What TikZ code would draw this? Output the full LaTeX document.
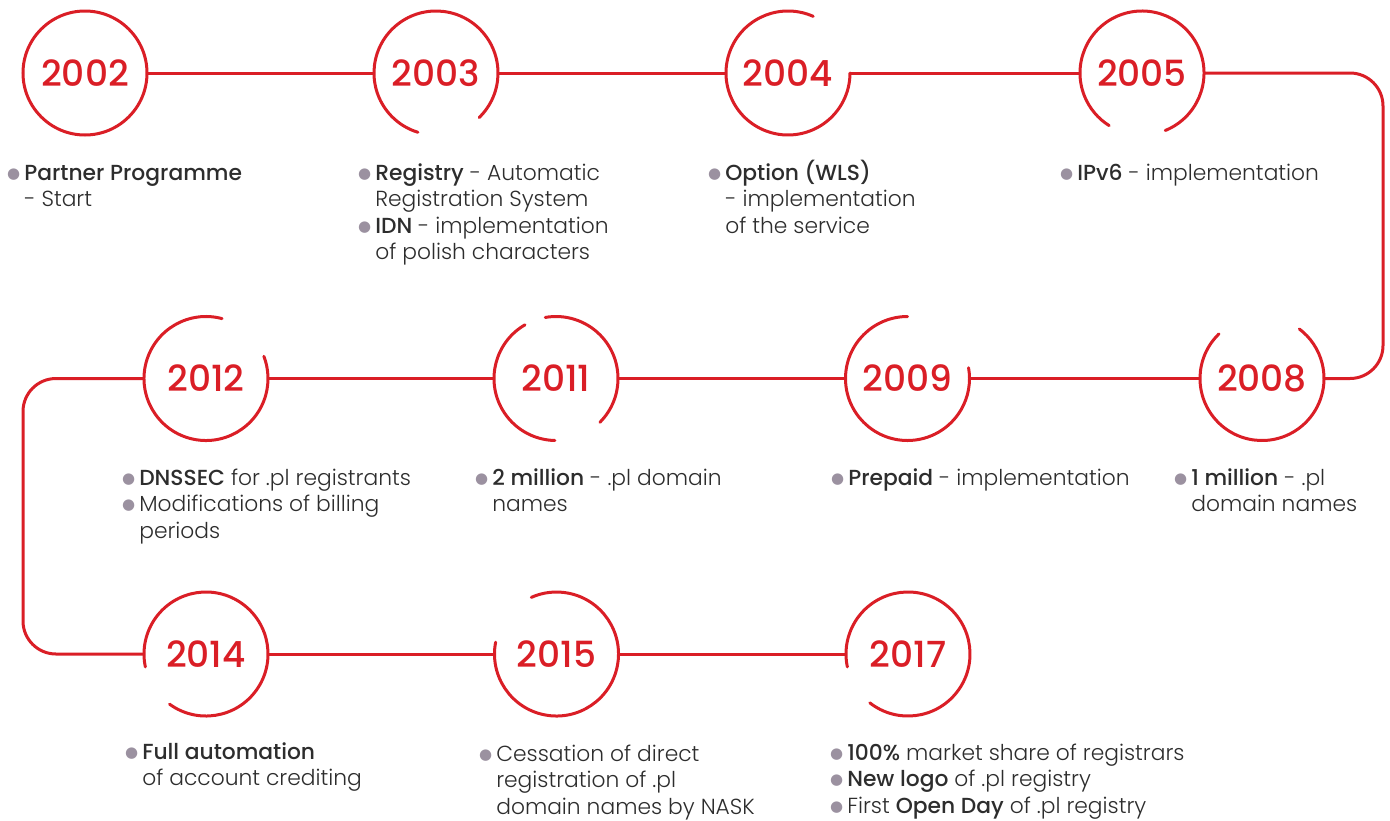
\documentclass[tikz,border=0pt]{standalone}
\usepackage{fontspec}
\setmainfont{Poppins}[UprightFont=* Light, BoldFont=* Medium]
\newfontfamily\yearfont{Poppins}[UprightFont=* Medium]
\newfontfamily\dotfont{DejaVu Sans}

\definecolor{tlred}{RGB}{218,30,38}
\definecolor{dotgray}{RGB}{155,145,160}
\definecolor{txtgray}{RGB}{45,45,45}

\newcommand\bl{\raisebox{2pt}{\dotfont\fontsize{15}{15}\selectfont\textcolor{dotgray}{●}}}
\newcommand\events[1]{\begin{tabular}[t]{@{}l@{\hspace{4pt}}l@{}}#1\end{tabular}}
% arc of a year ring, counter-clockwise from #2 to #3
\newcommand\ring[3]{\draw[ring] (#1.#2) arc[start angle=#2, end angle=#3, radius=62pt];}

\begin{document}
\begin{tikzpicture}[x=1pt, y=1pt,
    ring/.style={draw=tlred, line width=3pt, line cap=round},
    link/.style={draw=tlred, line width=3pt},
    year/.style={circle, minimum size=124pt, inner sep=0pt, outer sep=0pt,
      text=tlred, font=\yearfont\fontsize{36}{36}\selectfont},
    desc/.style={anchor=base west, inner sep=0pt, text=txtgray,
      font=\fontsize{21.8}{26.6}\selectfont}]
\useasboundingbox (0,0) rectangle (1390,-820);

% years
\node[year] (c2002) at (85,-73) {2002};
\node[year] (c2003) at (436,-73) {2003};
\node[year] (c2004) at (788,-73) {2004};
\node[year] (c2005) at (1142,-73) {2005};
\node[year] (c2012) at (206,-378.5) {2012};
\node[year] (c2011) at (556,-378.5) {2011};
\node[year] (c2009) at (907.5,-378.5) {2009};
\node[year] (c2008) at (1262,-378.5) {2008};
\node[year] (c2014) at (206,-654) {2014};
\node[year] (c2015) at (556.5,-654) {2015};
\node[year] (c2017) at (908,-654) {2017};

\ring{c2002}{0}{360}
\ring{c2003}{-46}{253}
\ring{c2004}{66}{360}
\ring{c2005}{-68}{238}
\ring{c2012}{75}{381}
\ring{c2011}{120}{269}
\ring{c2011}{-45}{100}
\ring{c2009}{90}{370}
\ring{c2008}{134}{413}
\ring{c2014}{234}{552}
\ring{c2015}{169}{474}
\ring{c2017}{232}{552}

% timeline
\coordinate (turnR) at (1383,-225);
\coordinate (turnL) at (23,-516);
\draw[link] (c2002.east) -- (c2003.west);
\draw[link] (c2003.east) -- (c2004.west);
\draw[link] (c2004.east) -- (c2005.west);
\draw[link, rounded corners=33pt] (c2005.east) -| (turnR) |- (c2008.east);
\draw[link] (c2008.west) -- (c2009.east);
\draw[link] (c2009.west) -- (c2011.east);
\draw[link] (c2011.west) -- (c2012.east);
\draw[link, rounded corners=33pt] (c2012.west) -| (turnL) |- (c2014.west);
\draw[link] (c2014.east) -- (c2015.west);
\draw[link] (c2015.east) -- (c2017.west);

% events
\node[desc] (d2002) at (7,-180) {\events{\bl & \textbf{Partner Programme}\\ & - Start}};
\node[desc] (d2003) at (358,-180) {\events{\bl & \textbf{Registry} - Automatic\\ & Registration System\\
  \bl & \textbf{IDN} - implementation\\ & of polish characters}};
\node[desc] (d2004) at (708,-180) {\events{\bl & \textbf{Option (WLS)}\\ & - implementation\\ & of the service}};
\node[desc] (d2005) at (1060,-180) {\events{\bl & \textbf{IPv6} - implementation}};
\node[desc] (d2012) at (122,-485) {\events{\bl & \textbf{DNSSEC} for .pl registrants\\
  \bl & Modifications of billing\\ & periods}};
\node[desc] (d2011) at (475,-485) {\events{\bl & \textbf{2 million} - .pl domain\\ & names}};
\node[desc] (d2009) at (831,-485) {\events{\bl & \textbf{Prepaid} - implementation}};
\node[desc] (d2008) at (1174,-485) {\events{\bl & \textbf{1 million} - .pl\\ & domain names}};
\node[desc] (d2014) at (125,-759) {\events{\bl & \textbf{Full automation}\\ & of account crediting}};
\node[desc] (d2015) at (479,-761) {\events{\bl & Cessation of direct\\ & registration of .pl\\ & domain names by NASK}};
\node[desc] (d2017) at (830,-760) {\events{\bl & \textbf{100\%} market share of registrars\\
  \bl & \textbf{New logo} of .pl registry\\ \bl & First \textbf{Open Day} of .pl registry}};
\end{tikzpicture}
\end{document}
